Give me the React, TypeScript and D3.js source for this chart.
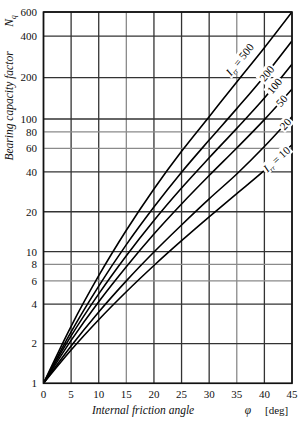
import * as d3 from "d3";

const phiDeg = [0, 5, 10, 15, 20, 25, 30, 35, 40, 45];
const nqIr10 = [1, 1.79, 3.04, 4.96, 7.85, 12.1, 18.3, 27.4, 41, 64];
const nqIr20 = [1, 1.92, 3.48, 6.0, 9.94, 15.9, 25.0, 38.5, 62, 104];
const nqIr50 = [1, 2.12, 4.17, 7.7, 13.6, 22.9, 37.5, 60.5, 99, 165];
const nqIr100 = [1, 2.29, 4.78, 9.33, 17.2, 30.2, 51, 85, 142, 250];
const nqIr200 = [1, 2.46, 5.48, 11.3, 21.7, 39.7, 69.4, 119, 205, 370];
const nqIr500 = [1, 2.71, 6.57, 14.5, 29.7, 57.1, 104, 186, 330, 600];

const xTicks = [0, 5, 10, 15, 20, 25, 30, 35, 40, 45];
const yTicks = [1, 2, 4, 6, 8, 10, 20, 40, 60, 80, 100, 200, 400, 600];
// grid lines that look fainter in the scan
const faintX = [15, 35];
const faintY = [6, 8, 60, 80];

const curves = [
  { ir: 10, values: nqIr10, labelAt: 42.2, text: "= 10", withI: true, shift: 0 },
  { ir: 20, values: nqIr20, labelAt: 43.8, text: "20", withI: false, shift: 0 },
  { ir: 50, values: nqIr50, labelAt: 43.1, text: "50", withI: false, shift: 0 },
  { ir: 100, values: nqIr100, labelAt: 41.8, text: "100", withI: false, shift: 0 },
  { ir: 200, values: nqIr200, labelAt: 40.4, text: "200", withI: false, shift: 0 },
  { ir: 500, values: nqIr500, labelAt: 37.2, text: "= 500", withI: true, shift: 12 },
];

const serif = "'Liberation Serif', 'DejaVu Serif', serif";

export default function App() {
  const width = 299;
  const height = 421;
  const left = 43.5;
  const right = 292;
  const top = 12;
  const bottom = 383.3;

  const x = d3.scaleLinear().domain([0, 45]).range([left, right]);
  const y = d3.scaleLog().domain([1, 10, 100, 600]).range([bottom, 251.7, 119, top]);

  const line = d3
    .line<number>()
    .x((_, i) => x(phiDeg[i]))
    .y((d) => y(d))
    .curve(d3.curveMonotoneX);

  const valueAt = (values: number[], p: number) => {
    const i = Math.min(Math.floor(p / 5), phiDeg.length - 2);
    const t = (p - phiDeg[i]) / 5;
    const a = Math.log10(values[i]);
    const b = Math.log10(values[i + 1]);
    return Math.pow(10, a + (b - a) * t);
  };

  return (
    <svg
      width={width}
      height={height}
      style={{ position: "absolute", left: 0, top: 0, background: "#fff" }}
      fontFamily={serif}
    >
      <defs>
        <clipPath id="plot">
          <rect x={left} y={top} width={right - left} height={bottom - top} />
        </clipPath>
      </defs>

      {xTicks.map((t) => (
        <line
          key={"gx" + t}
          x1={x(t)}
          x2={x(t)}
          y1={top}
          y2={bottom}
          stroke={faintX.includes(t) ? "#8a8a8a" : "#333"}
          strokeWidth={1.3}
        />
      ))}
      {yTicks.map((t) => (
        <line
          key={"gy" + t}
          x1={left}
          x2={right}
          y1={y(t)}
          y2={y(t)}
          stroke={faintY.includes(t) ? "#8a8a8a" : "#333"}
          strokeWidth={1.3}
        />
      ))}

      <g clipPath="url(#plot)">
        {curves.map((c) => (
          <path key={c.ir} d={line(c.values) || ""} fill="none" stroke="#000" strokeWidth={1.6} />
        ))}
      </g>

      <rect x={left} y={top} width={right - left} height={bottom - top} fill="none" stroke="#111" strokeWidth={1.6} />

      {curves.map((c) => {
        const p = c.labelAt;
        const px = x(p);
        const py = y(valueAt(c.values, p));
        const x0 = x(p - 0.5);
        const y0 = y(valueAt(c.values, p - 0.5));
        const x1 = x(p + 0.5);
        const y1 = y(valueAt(c.values, p + 0.5));
        const angle = (Math.atan2(y1 - y0, x1 - x0) * 180) / Math.PI;
        const w = c.withI ? 12 + c.text.length * 5.2 : c.text.length * 6;
        return (
          <g key={"lab" + c.ir} transform={`translate(${px},${py}) rotate(${angle}) translate(0,${-c.shift})`}>
            <rect x={-w / 2 - 1} y={-6} width={w + 2} height={12} fill="#fff" />
            <text textAnchor="middle" dy={4} fontSize={11} fontStyle="italic" fill="#000">
              {c.withI ? (
                <>
                  <tspan>I</tspan>
                  <tspan fontSize={7} dy={2.5}>rr</tspan>
                  <tspan dy={-2.5} fontStyle="normal">{" " + c.text}</tspan>
                </>
              ) : (
                <tspan fontStyle="normal">{c.text}</tspan>
              )}
            </text>
          </g>
        );
      })}

      {yTicks.map((t) => (
        <text key={"ty" + t} x={37} y={y(t)} dy={3.8} textAnchor="end" fontSize={11} fill="#111">
          {t}
        </text>
      ))}
      {xTicks.map((t) => (
        <text key={"tx" + t} x={x(t)} y={398} textAnchor="middle" fontSize={11} fill="#111">
          {t}
        </text>
      ))}

      <text transform="translate(13,106) rotate(-90)" textAnchor="middle" fontSize={11.5} fontStyle="italic" fill="#111">
        Bearing capacity factor
      </text>
      <text transform="translate(13,21) rotate(-90)" textAnchor="middle" fontSize={11.5} fontStyle="italic" fill="#111">
        N<tspan fontSize={7.5} dy={2.5}>q</tspan>
      </text>

      <text x={92} y={414} fontSize={11.5} fontStyle="italic" fill="#111">
        Internal friction angle
      </text>
      <text x={248} y={414} textAnchor="middle" fontSize={11.5} fontStyle="italic" fill="#111">
        φ
      </text>
      <text x={265} y={414} fontSize={11} fill="#111">
        [deg]
      </text>
    </svg>
  );
}
